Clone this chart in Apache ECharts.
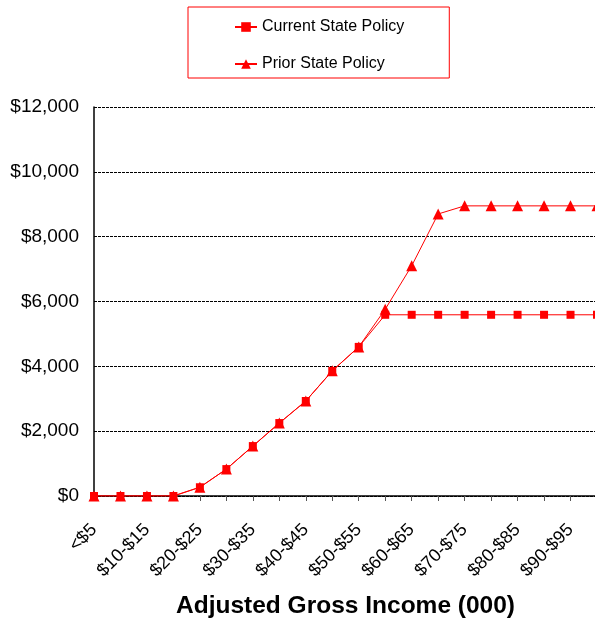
<!DOCTYPE html>
<html>
<head>
<meta charset="utf-8">
<script src="https://cdn.jsdelivr.net/npm/echarts@6/dist/echarts.min.js"></script>
<style>
  html, body { margin: 0; padding: 0; background: #ffffff; }
  #chart { width: 595px; height: 622px; }
</style>
</head>
<body>
<div id="chart"></div>
<script>
// Income brackets (thousands of dollars)
const categories = [
  '<$5', '$5-$10', '$10-$15', '$15-$20', '$20-$25', '$25-$30', '$30-$35',
  '$35-$40', '$40-$45', '$45-$50', '$50-$55', '$55-$60', '$60-$65',
  '$65-$70', '$70-$75', '$75-$80', '$80-$85', '$85-$90', '$90-$95', '$95-$100'
];

// Benefit amounts in dollars
const currentPolicy = [0, 0, 0, 0, 270, 830, 1540, 2250, 2930, 3860, 4600, 5590,
  5590, 5590, 5590, 5590, 5590, 5590, 5590, 5590];
const priorPolicy = [0, 0, 0, 0, 270, 830, 1540, 2250, 2930, 3860, 4600, 5760,
  7100, 8700, 8950, 8950, 8950, 8950, 8950, 8950];

const seriesNames = ['Current State Policy', 'Prior State Policy'];
const axisTitle = 'Adjusted Gross Income (000)';

const FONT = '"Liberation Sans", Arial, sans-serif';
const RED = '#ff0000';

const chart = echarts.init(document.getElementById('chart'), null, { renderer: 'canvas' });

function fmtDollar(v) {
  return '$' + v.toLocaleString('en-US');
}

chart.setOption({
  animation: false,
  backgroundColor: '#ffffff',
  textStyle: { fontFamily: FONT },
  legend: {
    orient: 'vertical',
    left: 188,
    top: 7,
    padding: [12, 45, 6, 46],
    itemGap: 21,
    itemWidth: 22,
    itemHeight: 12,
    borderColor: RED,
    borderWidth: 1,
    textStyle: { fontFamily: FONT, fontSize: 16, color: '#000' },
    data: [seriesNames[0], seriesNames[1]]
  },
  grid: {
    left: 94,
    right: -2,
    top: 107,
    bottom: 126,
    containLabel: false,
    outerBoundsMode: 'none'
  },
  xAxis: {
    type: 'category',
    data: categories,
    boundaryGap: false,
    name: axisTitle,
    nameLocation: 'middle',
    nameGap: 98,
    nameTextStyle: { fontFamily: FONT, fontSize: 24.5, fontWeight: 'bold', color: '#000' },
    axisLine: { lineStyle: { color: '#000', width: 1.5 } },
    axisTick: { show: true, interval: 0, length: 5, lineStyle: { color: '#555' } },
    axisLabel: {
      interval: 1,
      rotate: 45,
      margin: 31,
      fontFamily: FONT,
      fontSize: 18,
      color: '#000'
    },
    splitLine: { show: false }
  },
  yAxis: {
    type: 'value',
    min: 0,
    max: 12000,
    interval: 2000,
    axisLine: { show: true, lineStyle: { color: '#000', width: 1.5 } },
    axisTick: { show: false },
    axisLabel: {
      margin: 15,
      fontFamily: FONT,
      fontSize: 19,
      color: '#000',
      formatter: fmtDollar
    },
    splitLine: { show: true, lineStyle: { color: '#000', width: 1, type: [3, 1] } }
  },
  series: [
    {
      name: seriesNames[1],
      type: 'line',
      data: priorPolicy,
      symbol: 'triangle',
      symbolSize: 11,
      itemStyle: { color: RED },
      lineStyle: { color: RED, width: 1 },
      z: 2
    },
    {
      name: seriesNames[0],
      type: 'line',
      data: currentPolicy,
      symbol: 'rect',
      symbolSize: 8,
      itemStyle: { color: RED },
      lineStyle: { color: RED, width: 1 },
      z: 3
    }
  ]
});
</script>
</body>
</html>
